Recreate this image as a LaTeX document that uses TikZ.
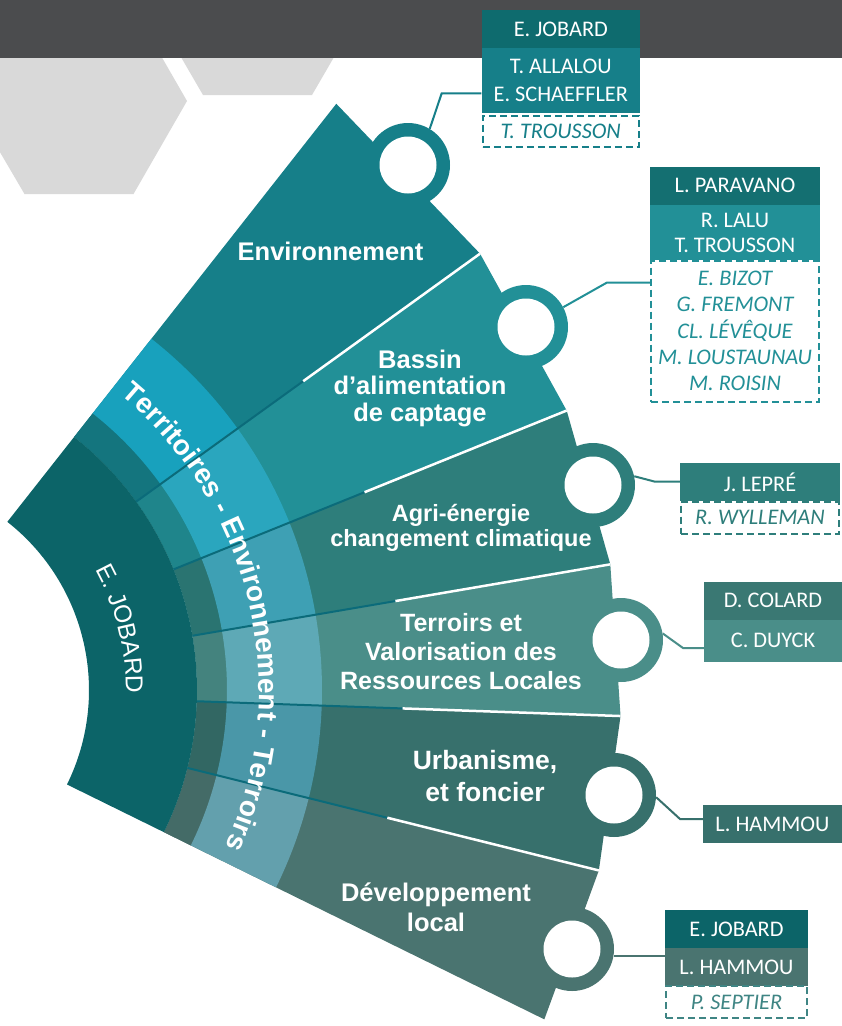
\documentclass[tikz,border=0pt]{standalone}
\usepackage{fontspec}
\setmainfont{Liberation Sans}
\newfontfamily\boxf{Carlito}
\usetikzlibrary{decorations.text,positioning}
\definecolor{barc}{HTML}{4B4C4E}
\definecolor{hexc}{HTML}{D9D9D9}
\definecolor{job}{HTML}{0C6468}
\definecolor{cEnv}{HTML}{167F89}
\definecolor{cBas}{HTML}{229097}
\definecolor{cAgr}{HTML}{2E7E7B}
\definecolor{cTer}{HTML}{4A8E89}
\definecolor{cUrb}{HTML}{37706C}
\definecolor{cDev}{HTML}{4A7470}
\definecolor{bEnv}{HTML}{18A1BD}
\definecolor{bBas}{HTML}{2AA6BE}
\definecolor{bAgr}{HTML}{3EA0B4}
\definecolor{bTer}{HTML}{5EA9B6}
\definecolor{bUrb}{HTML}{4A97A8}
\definecolor{bDev}{HTML}{63A0AD}
\definecolor{sepd}{HTML}{0B6B7A}
\definecolor{rowJob}{HTML}{0E6B6E}
\definecolor{rowPar}{HTML}{146F71}
\definecolor{rowCol}{HTML}{3A7873}
\definecolor{dDev}{HTML}{3F8584}
\newcommand\fanpiece[4]{%
 \fill[#3] (#1:322) -- (#1:746) -- (#2:746) -- (#2:322) arc[start angle=#2,end angle=#1,radius=322] -- cycle;
 \fill[#3!92!black] (#1:322) -- (#1:352) arc[start angle=#1,end angle=#2,radius=352] -- (#2:322) arc[start angle=#2,end angle=#1,radius=322] -- cycle;
 \fill[#4] (#1:352) -- (#1:447) arc[start angle=#1,end angle=#2,radius=447] -- (#2:352) arc[start angle=#2,end angle=#1,radius=352] -- cycle;
}
\newcommand\bandf{\bfseries\fontsize{28}{28}\selectfont}
\newcommand\jobf{\fontsize{24.5}{24.5}\selectfont}
\tikzset{
 ringst/.style={circle,inner sep=0,minimum size=84,draw=none},
 hole/.style={circle,inner sep=0,minimum size=57,fill=white,draw=none},
 sectxt/.style={text=white,align=center,inner sep=0,font=\bfseries\fontsize{25.5}{26.5}\selectfont},
 row/.style={rectangle,inner sep=0,text=white,align=center,font=\boxf\fontsize{22.3}{27}\selectfont},
 dashrow/.style={rectangle,inner sep=0,draw=#1,text=#1,line width=2pt,dash pattern=on 7pt off 4pt,align=center,font=\boxf\itshape\fontsize{22.3}{26.3}\selectfont},
 conn/.style={draw=#1,line width=2pt},
 sepw/.style={draw=white,line width=2.5pt},
 sepk/.style={draw=sepd,line width=2pt}
}
\begin{document}
\begin{tikzpicture}[x=1pt,y=-1pt]
\useasboundingbox (0,0) rectangle (842,1026);
\fill[white] (0,0) rectangle (842,1026);
% hexagons
\fill[hexc] (187,101) -- (133.5,194) -- (24.5,194) -- (-30,101) -- (24.5,8) -- (133.5,8) -- cycle;
\fill[hexc] (366,2) -- (312,95) -- (203,95) -- (149,2) -- (203,-91) -- (312,-91) -- cycle;
% header bar
\fill[barc] (0,0) rectangle (842,58);
% fan
\begin{scope}[shift={(-125,690)}]
 \fanpiece{-51.8}{-35.8}{cEnv}{bEnv}
 \fanpiece{-35.8}{-22}{cBas}{bBas}
 \fanpiece{-22}{-9.7}{cAgr}{bAgr}
 \fanpiece{-9.7}{2}{cTer}{bTer}
 \fanpiece{2}{14}{cUrb}{bUrb}
 \fanpiece{14}{26.2}{cDev}{bDev}
 \fill[job] (-51.8:214) -- (-51.8:322) arc[start angle=-51.8,end angle=26.2,radius=322] -- (26.2:214) arc[start angle=26.2,end angle=-51.8,radius=214] -- cycle;
 \foreach \s in {-35.8,-22,-9.7,2,14}{
  \draw[sepk] (\s:322) -- (\s:528);
  \draw[sepw] (\s:528) -- (\s:746);
 }
 \path[decorate,decoration={text along path,text={|\bandf|Territoires - Environnement - Terroirs},text align=center,text color=white}]
  (-55:384) arc[start angle=-55,end angle=28.7,radius=384];
 \path[decorate,decoration={text along path,text={|\jobf|E. JOBARD},text align=center,text color=white}]
  (-31:251) arc[start angle=-31,end angle=3,radius=251];
\end{scope}
% rings
\node[ringst,fill=cEnv] (rEnv) at (408,165) {};
\node[hole] (hEnv) at (rEnv) {};
\node[ringst,fill=cBas] (rBas) at (526,327) {};
\node[hole] (hBas) at (rBas) {};
\node[ringst,fill=cAgr] (rAgr) at (593,485) {};
\node[hole] (hAgr) at (rAgr) {};
\node[ringst,fill=cTer] (rTer) at (621,640) {};
\node[hole] (hTer) at (rTer) {};
\node[ringst,fill=cUrb] (rUrb) at (614,795) {};
\node[hole] (hUrb) at (rUrb) {};
\node[ringst,fill=cDev] (rDev) at (572,949) {};
\node[hole] (hDev) at (rDev) {};
% sector titles
\node[sectxt] (tEnv) at (330.5,251.3) {Environnement};
\node[sectxt] (tBas) at (420,388) {Bassin\\d’alimentation\\de captage};
\node[sectxt,font=\bfseries\fontsize{23.5}{25.5}\selectfont] (tAgr) at (461,528) {Agri-énergie\\changement climatique};
\node[sectxt,font=\bfseries\fontsize{25}{29}\selectfont] (tTer) at (461,652) {Terroirs et\\Valorisation des\\Ressources Locales};
\node[sectxt,font=\bfseries\fontsize{26.5}{32}\selectfont] (tUrb) at (485,776) {Urbanisme,\\et foncier};
\node[sectxt,font=\bfseries\fontsize{25.5}{30}\selectfont] (tDev) at (436,907) {Développement\\local};
% boxes
\node[row,fill=rowJob,minimum width=158.3,minimum height=38.3] (envA) at (560.8,29.2) {E. JOBARD};
\node[row,fill=cEnv,minimum width=158.3,minimum height=65,font=\boxf\fontsize{22.3}{28}\selectfont] (envB) at (560.8,80.8) {T. ALLALOU\\E. SCHAEFFLER};
\node[dashrow=cEnv,minimum width=156,minimum height=31] (envC) at (560.8,131) {T. TROUSSON};
\node[row,fill=rowPar,minimum width=170,minimum height=38.3] (basA) at (735,185.8) {L. PARAVANO};
\node[row,fill=cBas,minimum width=170,minimum height=55,font=\boxf\fontsize{22.3}{25}\selectfont] (basB) at (735,232.5) {R. LALU\\T. TROUSSON};
\node[dashrow=cBas,minimum width=168,minimum height=141] (basC) at (735,331) {E. BIZOT\\G. FREMONT\\CL. LÉVÊQUE\\M. LOUSTAUNAU\\M. ROISIN};
\node[row,fill=cAgr,minimum width=160,minimum height=37.7] (agrA) at (760,482.2) {J. LEPRÉ};
\node[dashrow=cAgr,minimum width=158,minimum height=32] (agrC) at (760,517.5) {R. WYLLEMAN};
\node[row,fill=rowCol,minimum width=138,minimum height=38.3] (terA) at (773,600.8) {D. COLARD};
\node[row,fill=cTer,minimum width=138,minimum height=41.7] (terB) at (773,640.8) {C. DUYCK};
\node[row,fill=cUrb,minimum width=139,minimum height=38] (urbA) at (772.5,824) {L. HAMMOU};
\node[row,fill=job,minimum width=143,minimum height=38] (devA) at (736.5,929) {E. JOBARD};
\node[row,fill=cDev,minimum width=143,minimum height=38] (devB) at (736.5,967) {L. HAMMOU};
\node[dashrow=dDev,minimum width=141,minimum height=32] (devC) at (736.5,1002) {P. SEPTIER};
% connectors
\coordinate (kEnv) at (441.7,93.3);
\coordinate (kBas) at (606.7,282.7);
\coordinate (kAgr) at (655,481.7);
\coordinate (kTer) at (683,648);
\coordinate (kUrb) at (680,819);
\draw[conn=cEnv] (rEnv.59) -- (kEnv) -- (kEnv -| envB.west);
\draw[conn=cBas] (rBas.28) -- (kBas) -- (kBas -| basC.west);
\draw[conn=cAgr] (rAgr.12) -- (kAgr) -- (kAgr -| agrA.west);
\draw[conn=cTer] (rTer.9) -- (kTer) -- (kTer -| terB.west);
\draw[conn=cUrb] (rUrb.-3) -- (kUrb) -- (kUrb -| urbA.west);
\draw[conn=cDev] (rDev.-9) -- (rDev.-9 -| devB.west);
\end{tikzpicture}
\end{document}
